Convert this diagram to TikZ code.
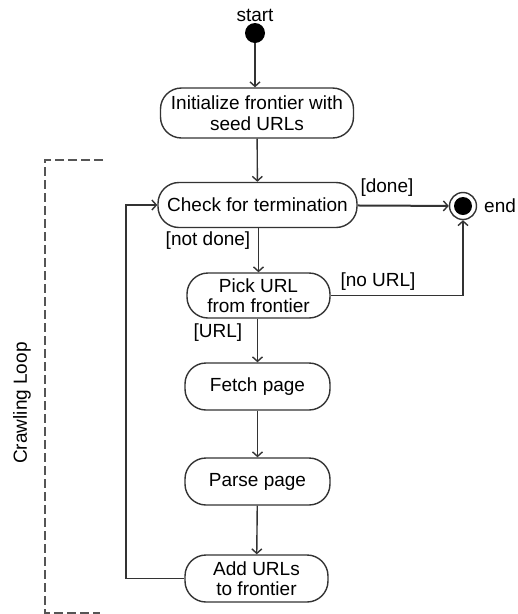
\documentclass[tikz,border=0pt]{standalone}
\usepackage{fontspec}
\setmainfont{Liberation Sans}
\usetikzlibrary{arrows.meta}
\definecolor{linegray}{HTML}{333333}
\definecolor{dashgray}{HTML}{555555}
\begin{document}
\begin{tikzpicture}[x=1pt,y=-1pt,
  every node/.style={font=\fontsize{19}{20.5}\selectfont, text=black},
  action/.style={draw=linegray, line width=1.4pt, rounded corners=21pt, align=center, inner sep=0pt},
  flow/.style={draw=linegray, line width=1.4pt, -{Straight Barb[length=4.5pt,width=10pt,line width=1.4pt]}},
  guard/.style={inner sep=1pt},
  bracket/.style={draw=dashgray, line width=1.4pt, dash pattern=on 9pt off 4pt}]
  \useasboundingbox (0,0) rectangle (518,614);

  % initial state
  \node[circle, fill=black, minimum size=20pt, inner sep=0pt] (start) at (255,33) {};
  \node (startlbl) at (255,15) {start};

  % activities
  \node[action, minimum width=193pt, minimum height=50pt] (init) at (257,113) {Initialize frontier with\\seed URLs};
  \node[action, minimum width=199pt, minimum height=45pt] (check) at (257.5,205) {Check for termination};
  \node[action, minimum width=143pt, minimum height=45pt] (pick) at (258.5,295.5) {Pick URL\\from frontier};
  \node[action, minimum width=145pt, minimum height=47pt] (fetch) at (257.5,386.5) {Fetch page};
  \node[action, minimum width=145pt, minimum height=47pt] (parse) at (257.5,481.5) {Parse page};
  \node[action, minimum width=143pt, minimum height=47pt] (add) at (256.5,578.5) {Add URLs\\to frontier};

  % final state
  \node[circle, draw=linegray, line width=1.4pt, minimum size=27pt, inner sep=0pt] (end) at (463,206) {};
  \node[circle, fill=black, minimum size=18pt, inner sep=0pt] (endcore) at (end) {};
  \node[anchor=west, inner sep=0pt] (endlbl) at (484,206) {end};

  % transitions
  \draw[flow] (start) -- (start |- init.north);
  \draw[flow] (init) -- (check);
  \draw[flow, line width=2pt] (check) -- (end);
  \draw[flow] (check.south -| pick) -- (pick);
  \draw[flow] (pick.east) -- (pick.east -| end) -- (end);
  \draw[flow] (pick.south -| fetch) -- (fetch);
  \draw[flow] (fetch) -- (parse);
  \draw[flow] (parse) -- (add);
  \coordinate (loopbot) at (126,578.5);
  \coordinate (looptop) at (126,205);
  \draw[flow] (add.west) -- (loopbot) -- (looptop) -- (check.west);

  % guards
  \node[guard] (gdone) at (387,188) {[done]};
  \node[guard] (gnotdone) at (208,241) {[not done]};
  \node[guard] (gnourl) at (378,282) {[no URL]};
  \node[guard] (gurl) at (218,333) {[URL]};

  % loop bracket
  \coordinate (b1) at (103,160);
  \coordinate (b2) at (45,160);
  \coordinate (b3) at (45,613);
  \coordinate (b4) at (100,613);
  \draw[bracket] (b1) -- (b2) -- (b3) -- (b4);
  \node[rotate=90] (looplbl) at (22,403) {Crawling Loop};
\end{tikzpicture}
\end{document}
